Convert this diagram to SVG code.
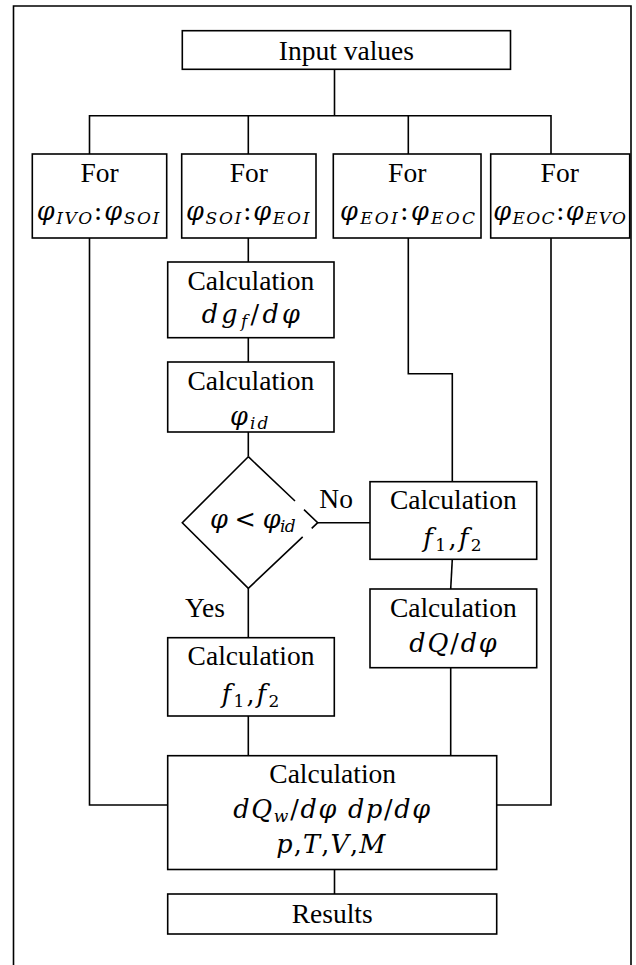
<svg xmlns="http://www.w3.org/2000/svg" width="636" height="965" viewBox="0 0 636 965">
<style>
.b{fill:#fff;stroke:#000;stroke-width:1.6}
.c{fill:none;stroke:#000;stroke-width:1.6}
text{fill:#000}
.t,.l{font-family:'Liberation Serif','Times New Roman',serif;font-size:27.5px}
.t{text-anchor:middle}
.m{font-family:'DejaVu Serif','Liberation Serif',serif;font-style:italic;font-size:25.5px;text-anchor:middle}
.s{font-size:17px}
.u{font-style:normal}
</style>
<rect x="0" y="0" width="636" height="965" fill="#fff"/>
<path class="c" d="M13.5,965 V6 H631 V965"/>

<g id="connectors">
<path class="c" d="M334.5,69.3 V115.7"/>
<path class="c" d="M89.5,154 V115.7 H551 V154"/>
<path class="c" d="M248.3,115.7 V154"/>
<path class="c" d="M408.3,115.7 V154"/>
<path class="c" d="M89.5,238 V805 H167.7"/>
<path class="c" d="M551,238 V805 H496.7"/>
<path class="c" d="M248.3,238 V262"/>
<path class="c" d="M248.3,337.7 V362"/>
<path class="c" d="M248.3,432 V456.7"/>
<path class="c" d="M248.3,588.3 V637.7"/>
<path class="c" d="M248.3,716 V755.7"/>
<path class="c" d="M408.3,238 V373.7 H452.3 V481.7"/>
<path class="c" d="M317.7,522.7 H370"/>
<path class="c" d="M452.3,559.3 L450.7,589"/>
<path class="c" d="M450.7,667.7 V755.7"/>
<path class="c" d="M334.5,869.5 V894"/>
<text class="l" x="319.3" y="508.3">No</text>
<text class="l" x="185" y="616.7">Yes</text>
</g>

<g id="input">
<rect class="b" x="182.3" y="30.7" width="328.2" height="38.6"/>
<text class="t" x="346.4" y="60">Input values</text>
</g>

<g id="for1">
<rect class="b" x="32.3" y="154" width="134.4" height="84"/>
<text class="t" x="99.5" y="182">For</text>
<text class="m" x="98" y="220" textLength="122.6" lengthAdjust="spacing">φ<tspan class="s" dy="4">IVO</tspan><tspan class="u" dy="-4">:</tspan>φ<tspan class="s" dy="4">SOI</tspan></text>
</g>

<g id="for2">
<rect class="b" x="181.7" y="154" width="134.3" height="84"/>
<text class="t" x="248.8" y="182">For</text>
<text class="m" x="247.7" y="220" textLength="123.3" lengthAdjust="spacing">φ<tspan class="s" dy="4">SOI</tspan><tspan class="u" dy="-4">:</tspan>φ<tspan class="s" dy="4">EOI</tspan></text>
</g>

<g id="for3">
<rect class="b" x="333.3" y="154" width="147.7" height="84"/>
<text class="t" x="407.2" y="182">For</text>
<text class="m" x="407.5" y="220" textLength="135" lengthAdjust="spacing">φ<tspan class="s" dy="4">EOI</tspan><tspan class="u" dy="-4">:</tspan>φ<tspan class="s" dy="4">EOC</tspan></text>
</g>

<g id="for4">
<rect class="b" x="490.7" y="154" width="139" height="84"/>
<text class="t" x="559.7" y="182">For</text>
<text class="m" x="559.7" y="220" textLength="132.7" lengthAdjust="spacing">φ<tspan class="s" dy="4">EOC</tspan><tspan class="u" dy="-4">:</tspan>φ<tspan class="s" dy="4">EVO</tspan></text>
</g>

<g id="calc-dgf">
<rect class="b" x="167.7" y="262" width="166.3" height="75.7"/>
<text class="t" x="250.8" y="290">Calculation</text>
<text class="m" x="250.8" y="323" textLength="98.3" lengthAdjust="spacing">dg<tspan class="s" dy="4">f</tspan><tspan class="u" dy="-4">/</tspan>dφ</text>
</g>

<g id="calc-phiid">
<rect class="b" x="167.7" y="362" width="166.3" height="70"/>
<text class="t" x="250.8" y="390">Calculation</text>
<text class="m" x="249.2" y="425" textLength="38.3" lengthAdjust="spacing">φ<tspan class="s" dy="4">id</tspan></text>
</g>

<g id="decision">
<path class="c" d="M248.3,456.7 L295,501 M304,509.7 L317.7,522.7 L311.7,528.4 M302.7,536.9 L248.3,588.3 L182.3,522.7 L248.3,456.7"/>
<text class="m" x="252.8" y="528.3" textLength="85.7" lengthAdjust="spacing">φ<tspan class="u"> &lt; </tspan>φ<tspan class="s" dy="4">id</tspan></text>
</g>

<g id="calc-f-no">
<rect class="b" x="370" y="481.7" width="166.7" height="77.6"/>
<text class="t" x="453.3" y="509.3">Calculation</text>
<text class="m" x="452.5" y="547" textLength="58.4" lengthAdjust="spacing">f<tspan class="s u" dy="4">1</tspan><tspan class="u" dy="-4">,</tspan>f<tspan class="s u" dy="4">2</tspan></text>
</g>

<g id="calc-dq">
<rect class="b" x="370" y="589" width="166.7" height="78.7"/>
<text class="t" x="453.3" y="616.7">Calculation</text>
<text class="m" x="453" y="651.7" textLength="87.4" lengthAdjust="spacing">dQ<tspan class="u">/</tspan>dφ</text>
</g>

<g id="calc-f-yes">
<rect class="b" x="167.7" y="637.7" width="166.6" height="78.3"/>
<text class="t" x="251" y="665">Calculation</text>
<text class="m" x="250.5" y="703.3" textLength="57.6" lengthAdjust="spacing">f<tspan class="s u" dy="4">1</tspan><tspan class="u" dy="-4">,</tspan>f<tspan class="s u" dy="4">2</tspan></text>
</g>

<g id="calc-main">
<rect class="b" x="167.7" y="755.7" width="329" height="113.8"/>
<text class="t" x="332.7" y="783.3">Calculation</text>
<text class="m" x="331.7" y="818.3" textLength="197" lengthAdjust="spacing">dQ<tspan class="s" dy="4">w</tspan><tspan class="u" dy="-4">/</tspan>dφ dp<tspan class="u">/</tspan>dφ</text>
<text class="m" x="330.8" y="853.3" textLength="109" lengthAdjust="spacing">p<tspan class="u">,</tspan>T<tspan class="u">,</tspan>V<tspan class="u">,</tspan>M</text>
</g>

<g id="results">
<rect class="b" x="167.7" y="894" width="329" height="40"/>
<text class="t" x="332.2" y="923.3">Results</text>
</g>
</svg>
